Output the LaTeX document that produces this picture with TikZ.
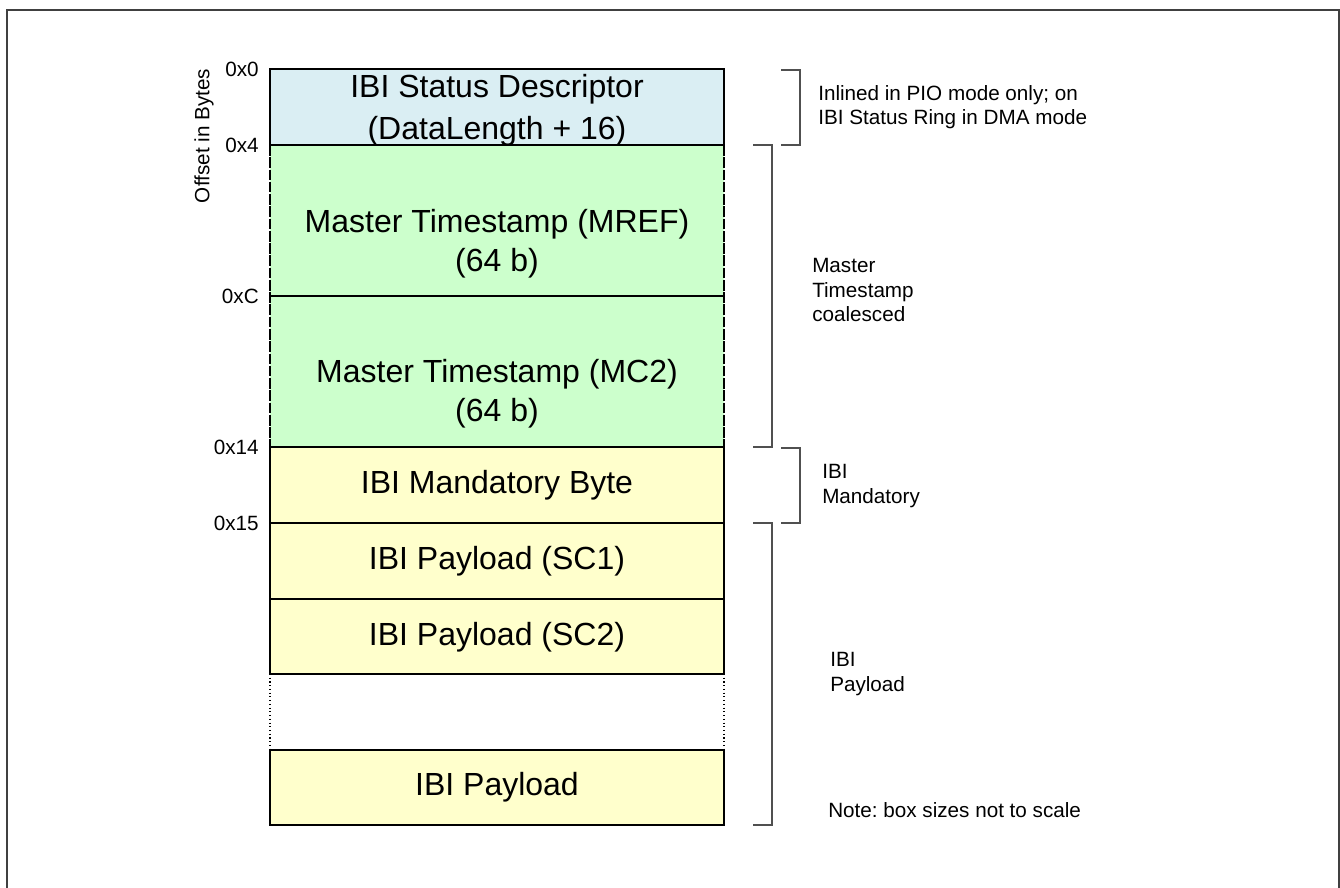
\documentclass[tikz,border=0pt]{standalone}
\usepackage{fontspec}
\setmainfont{Liberation Sans}
\frenchspacing
\definecolor{blueF}{HTML}{DAEEF3}
\definecolor{greenF}{HTML}{CCFFCC}
\definecolor{yellowF}{HTML}{FFFFCC}
\definecolor{frameC}{HTML}{404040}
\definecolor{brC}{HTML}{505050}
\begin{document}
\begin{tikzpicture}[x=0.75pt,y=-0.75pt,
  cell/.style={inner sep=0pt, outer sep=0pt, anchor=north west, minimum width=340.5pt},
  celldraw/.style={cell, draw=black, line width=1.1pt},
  boxtxt/.style={font=\fontsize{24}{30}\selectfont, align=center, inner sep=0pt},
  offl/.style={font=\fontsize{15.5}{18}\selectfont, anchor=east, inner sep=0pt},
  rlab/.style={font=\fontsize{15.5}{18.5}\selectfont, align=left, anchor=west, inner sep=0pt},
  brack/.style={draw=brC, line width=0.9pt},
  sidedash/.style={draw=black, line width=1.1pt, dash pattern=on 8pt off 1.2pt},
  gapside/.style={draw=black, line width=0.8pt, dotted}]
\useasboundingbox (0,0) rectangle (1340,888);
% outer frame
\draw[draw=frameC, line width=1.6pt] (7,888) -- (7,10) -- (1339,10) -- (1339,888);

% cells
\node[celldraw, fill=blueF, minimum height=57pt] (status) at (270,69) {};
\node[cell, fill=greenF, minimum height=113.25pt] (mref) at (270,145) {};
\node[cell, fill=greenF, minimum height=113.25pt] (mc2) at (270,296) {};
\draw[black, line width=1.1pt] (mref.north west) -- (mref.north east);
\draw[black, line width=1.1pt] (mc2.north west) -- (mc2.north east);
\draw[sidedash] (mref.north west) -- (mc2.south west);
\draw[sidedash] (mref.north east) -- (mc2.south east);
\node[celldraw, fill=yellowF, minimum height=57pt] (mand) at (270,447) {};
\node[celldraw, fill=yellowF, minimum height=57pt] (sc1) at (270,523) {};
\node[celldraw, fill=yellowF, minimum height=56.25pt] (sc2) at (270,599) {};
\node[celldraw, fill=yellowF, minimum height=56.25pt] (last) at (270,750) {};
\draw[gapside] (sc2.south west) -- (last.north west);
\draw[gapside] (sc2.south east) -- (last.north east);

% cell texts
\node[boxtxt, font=\fontsize{24}{31.5}\selectfont] (tstatus) at (497,110) {IBI Status Descriptor\\(DataLength + 16)};
\node[boxtxt, font=\fontsize{24}{29.5}\selectfont] (tmref) at (497,244) {Master Timestamp (MREF)\\(64 b)};
\node[boxtxt, font=\fontsize{24}{29.5}\selectfont] (tmc2) at (497,394) {Master Timestamp (MC2)\\(64 b)};
\node[boxtxt] (tmand) at (497,485) {IBI Mandatory Byte};
\node[boxtxt] (tsc1) at (497,561) {IBI Payload (SC1)};
\node[boxtxt] (tsc2) at (497,637) {IBI Payload (SC2)};
\node[boxtxt] (tlast) at (497,787) {IBI Payload};

% offsets
\node[offl] (o0) at (259,69) {0x0};
\node[offl] (o4) at (259,145) {0x4};
\node[offl] (oC) at (259,296) {0xC};
\node[offl] (o14) at (259,447) {0x14};
\node[offl] (o15) at (259,523) {0x15};
\node[font=\fontsize{15.5}{18}\selectfont, rotate=90, inner sep=0pt] (offt) at (204,136) {Offset in Bytes};

% brackets
\coordinate (b1a) at (781,70);  \coordinate (b1b) at (800,70);
\coordinate (b1c) at (800,145); \coordinate (b1d) at (781,145);
\draw[brack] (b1a) -- (b1b) -- (b1c) -- (b1d);
\coordinate (b2a) at (753,145); \coordinate (b2b) at (772,145);
\coordinate (b2c) at (772,447); \coordinate (b2d) at (753,447);
\draw[brack] (b2a) -- (b2b) -- (b2c) -- (b2d);
\coordinate (b3a) at (781,448); \coordinate (b3b) at (800,448);
\coordinate (b3c) at (800,523); \coordinate (b3d) at (781,523);
\draw[brack] (b3a) -- (b3b) -- (b3c) -- (b3d);
\coordinate (b4a) at (753,523); \coordinate (b4b) at (772,523);
\coordinate (b4c) at (772,825); \coordinate (b4d) at (753,825);
\draw[brack] (b4a) -- (b4b) -- (b4c) -- (b4d);

% right labels
\node[rlab] (l1) at (818,107) {Inlined in PIO mode only; on\\IBI Status Ring in DMA mode};
\node[rlab] (l2) at (812,290) {Master\\Timestamp\\coalesced};
\node[rlab] (l3) at (822,486) {IBI\\Mandatory};
\node[rlab] (l4) at (830,674) {IBI\\Payload};
\node[rlab] (l5) at (828,810) {Note: box sizes not to scale};
\end{tikzpicture}
\end{document}
